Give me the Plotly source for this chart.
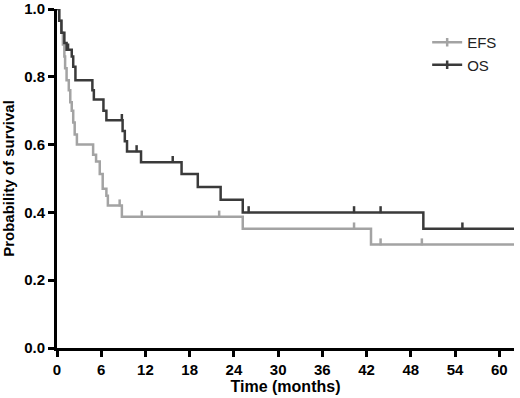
import numpy as np
import plotly.graph_objects as go

# Overall survival (OS) step function
os_t = [0, 0.3, 0.6, 1.0, 1.3, 2.0, 2.2, 2.5, 4.8, 5.0, 6.3, 6.7, 8.9, 9.2, 9.5, 11.4,
        16.9, 19.1, 22.2, 25.2, 49.7, 62]
os_s = [1.0, 0.965, 0.93, 0.90, 0.88, 0.86, 0.83, 0.79, 0.76, 0.733, 0.70, 0.672, 0.64,
        0.61, 0.58, 0.548, 0.513, 0.475, 0.437, 0.40, 0.352, 0.352]
os_cens = [1.5, 8.8, 10.8, 15.7, 26.0, 40.3, 43.9, 55.0]

# Event-free survival (EFS) step function
efs_t = [0, 0.3, 0.6, 0.8, 1.0, 1.1, 1.3, 1.6, 1.8, 2.0, 2.2, 2.4, 2.7, 4.9, 5.3, 5.8,
         6.2, 6.7, 6.9, 8.8, 25.2, 42.6, 62]
efs_s = [1.0, 0.965, 0.93, 0.895, 0.86, 0.825, 0.79, 0.76, 0.725, 0.70, 0.665, 0.63,
         0.60, 0.57, 0.55, 0.513, 0.47, 0.449, 0.42, 0.387, 0.352, 0.305, 0.305]
efs_cens = [8.5, 11.5, 22.0, 40.3, 43.9, 49.5]

x_ticks = [0, 6, 12, 18, 24, 30, 36, 42, 48, 54, 60]
y_ticks = [0.0, 0.2, 0.4, 0.6, 0.8, 1.0]
y_labels = ["0.0", "0.2", "0.4", "0.6", "0.8", "1.0"]

OS_C = "#3a3a3a"
EFS_C = "#a3a3a3"


def step_value(ts, ss, t):
    i = np.searchsorted(np.array(ts), t, side="right") - 1
    return ss[i]


fig = go.Figure()

for name, ts, ss, cens, col in [("EFS", efs_t, efs_s, efs_cens, EFS_C),
                                ("OS", os_t, os_s, os_cens, OS_C)]:
    fig.add_trace(go.Scatter(x=ts, y=ss, mode="lines", line=dict(color=col, width=2.5, shape="hv"),
                             showlegend=False, hoverinfo="skip", cliponaxis=False))
    fig.add_trace(go.Scatter(x=cens, y=[step_value(ts, ss, c) + 0.008 for c in cens], mode="markers",
                             marker=dict(symbol="line-ns", size=5, line=dict(width=2.5, color=col)),
                             showlegend=False, hoverinfo="skip"))
    fig.add_trace(go.Scatter(x=[None], y=[None], mode="lines+markers", name=name,
                             line=dict(color=col, width=2.5),
                             marker=dict(symbol="line-ns", size=6, line=dict(width=2.5, color=col))))

font_fam = "Liberation Sans, Arial, sans-serif"

fig.update_layout(
    width=520, height=398,
    margin=dict(l=57, r=6, t=9, b=50),
    paper_bgcolor="white", plot_bgcolor="white",
    showlegend=True,
    legend=dict(x=0.81, y=0.95, xanchor="left", yanchor="top", bgcolor="rgba(0,0,0,0)",
                itemwidth=30, font=dict(family=font_fam, size=15, color="#222"), tracegroupgap=0),
    xaxis=dict(range=[0, 62], tickvals=x_ticks, ticks="outside", ticklen=6, tickwidth=2.5,
               tickcolor="black", showline=True, linewidth=3, linecolor="black",
               showgrid=False, zeroline=False, automargin=False,
               tickfont=dict(family=font_fam, size=15, color="black", weight="bold"),
               title=dict(text="Time (months)", standoff=4,
                          font=dict(family=font_fam, size=16, color="black", weight="bold"))),
    yaxis=dict(range=[0, 1.0], tickvals=y_ticks, ticktext=y_labels, ticks="outside", ticklen=6,
               tickwidth=2.5, tickcolor="black", showline=True, linewidth=3, linecolor="black",
               showgrid=False, zeroline=False, automargin=False,
               tickfont=dict(family=font_fam, size=15, color="black", weight="bold"),
               title=dict(text="Probability of survival", standoff=6,
                          font=dict(family=font_fam, size=15, color="black", weight="bold"))),
)

fig.write_html("out.html", config={"displayModeBar": False},
               post_script="document.body.style.margin='0px';")
